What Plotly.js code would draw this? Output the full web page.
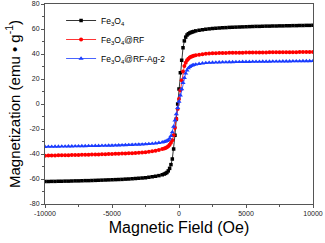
<!DOCTYPE html>
<html>
<head>
<meta charset="utf-8">
<script src="https://cdn.plot.ly/plotly-3.0.1.min.js"></script>
<style>html,body{margin:0;padding:0;background:#fff;}#chart{width:325px;height:243px;}</style>
</head>
<body>
<div id="chart"></div>
<script>
var field = [-10000,-9750,-9500,-9250,-9000,-8750,-8500,-8250,-8000,-7750,-7500,-7250,-7000,-6750,-6500,-6250,-6000,-5750,-5500,-5250,-5000,-4750,-4500,-4250,-4000,-3750,-3500,-3250,-3000,-2750,-2500,-2250,-2000,-1750,-1500,-1250,
-1100,-1000,-900,-800,-700,-600,-500,-400,-300,-200,-100,0,100,200,300,400,500,600,700,800,900,1000,1100,
1250,1500,1750,2000,2250,2500,2750,3000,3250,3500,3750,4000,4250,4500,4750,5000,5250,5500,5750,6000,6250,6500,6750,7000,7250,7500,7750,8000,8250,8500,8750,9000,9250,9500,9750,10000];

var fe3o4 = [-62.0,-62.0,-61.9,-61.9,-61.8,-61.8,-61.7,-61.7,-61.6,-61.5,-61.5,-61.4,-61.3,-61.3,-61.2,-61.1,-61.0,-60.9,-60.8,-60.7,-60.6,-60.5,-60.4,-60.3,-60.1,-60.0,-59.8,-59.6,-59.4,-59.2,-59.0,-58.6,-58.2,-57.8,-57.3,-56.6,
-56.0,-55.5,-54.8,-53.5,-51.5,-48.5,-44,-36,-25,-12,0,12,25,35,45,50.5,53.5,55.2,56.2,56.8,57.3,57.7,58.0,
58.5,59.0,59.4,59.8,60.1,60.4,60.6,60.8,61.0,61.1,61.3,61.4,61.5,61.6,61.7,61.8,61.9,62.0,62.1,62.1,62.2,62.3,62.3,62.4,62.4,62.5,62.5,62.6,62.6,62.7,62.7,62.8,62.8,62.9,62.9,63.0];

var fe3o4RF = [-41.3,-41.2,-41.1,-41.1,-41.0,-41.0,-40.9,-40.9,-40.8,-40.8,-40.7,-40.6,-40.6,-40.5,-40.4,-40.4,-40.3,-40.2,-40.1,-40.0,-39.9,-39.8,-39.7,-39.6,-39.5,-39.4,-39.3,-39.1,-38.9,-38.7,-38.5,-38.2,-37.8,-37.4,-36.8,-36.0,
-35.5,-35.1,-34.5,-33.7,-32.5,-31,-29,-25,-19,-12,-4,4,11,19,26,30.5,33,35,36.3,37.2,37.8,38.3,38.6,
39.0,39.5,39.9,40.2,40.4,40.6,40.7,40.8,40.9,40.9,41.0,41.0,41.1,41.1,41.1,41.2,41.2,41.2,41.3,41.3,41.3,41.3,41.4,41.4,41.4,41.4,41.5,41.5,41.5,41.5,41.5,41.6,41.6,41.6,41.6,41.7];

var fe3o4RFAg = [-34.2,-34.1,-34.1,-34.0,-34.0,-33.9,-33.9,-33.8,-33.8,-33.7,-33.7,-33.6,-33.6,-33.5,-33.5,-33.4,-33.4,-33.3,-33.3,-33.2,-33.2,-33.1,-33.0,-32.9,-32.8,-32.7,-32.6,-32.5,-32.4,-32.3,-32.1,-31.9,-31.7,-31.4,-31.0,-30.6,
-30.2,-29.9,-29.4,-28.7,-27.5,-25.5,-22.5,-18,-13,-8,-3,2,7,12,17,21,24.5,27,28.7,29.8,30.5,31,31.3,
31.7,32.2,32.6,32.9,33.1,33.2,33.3,33.4,33.5,33.5,33.6,33.6,33.7,33.7,33.8,33.8,33.8,33.9,33.9,33.9,34.0,34.0,34.0,34.1,34.1,34.1,34.2,34.2,34.2,34.3,34.3,34.3,34.4,34.4,34.4,34.5];

var seriesNames = ['Fe<sub>3</sub>O<sub>4</sub>', 'Fe<sub>3</sub>O<sub>4</sub>@RF', 'Fe<sub>3</sub>O<sub>4</sub>@RF-Ag-2'];
var xTicks = [-10000, -5000, 0, 5000, 10000];
var yTicks = [-80, -60, -40, -20, 0, 20, 40, 60, 80];

var traces = [
  {x: field, y: fe3o4, name: seriesNames[0], mode: 'lines+markers', line: {color: '#000000', width: 0.8}, marker: {symbol: 'square', size: 3.5, color: '#000000'}},
  {x: field, y: fe3o4RF, name: seriesNames[1], mode: 'lines+markers', line: {color: '#ff0000', width: 0.8}, marker: {symbol: 'circle', size: 4, color: '#ff0000'}},
  {x: field, y: fe3o4RFAg, name: seriesNames[2], mode: 'lines+markers', line: {color: '#1a3cff', width: 0.8}, marker: {symbol: 'triangle-up', size: 4.5, color: '#1a3cff'}}
];

var layout = {
  width: 325, height: 243,
  margin: {l: 45, r: 12, t: 4, b: 39},
  paper_bgcolor: '#ffffff', plot_bgcolor: '#ffffff',
  font: {family: 'Liberation Sans, Arial, sans-serif', color: '#000000'},
  showlegend: true,
  legend: {x: 0.06, y: 0.99, xanchor: 'left', yanchor: 'top', bgcolor: 'rgba(0,0,0,0)', font: {size: 8.5}, tracegroupgap: 0, itemwidth: 30},
  xaxis: {
    range: [-10000, 10000], tickvals: xTicks, ticktext: xTicks.map(String),
    ticks: 'outside', ticklen: 3, tickwidth: 1, tickcolor: '#555',
    minor: {dtick: 2500, ticks: 'outside', ticklen: 2, tickcolor: '#555'},
    showline: true, linecolor: '#555', linewidth: 1, mirror: true,
    showgrid: false, zeroline: false,
    tickfont: {size: 7, color: '#222'},
    title: {text: 'Magnetic Field (Oe)', font: {size: 16}, standoff: 5}
  },
  yaxis: {
    range: [-80, 80], tickvals: yTicks, ticktext: yTicks.map(String),
    ticks: 'outside', ticklen: 3, tickwidth: 1, tickcolor: '#555',
    minor: {dtick: 10, ticks: 'outside', ticklen: 2, tickcolor: '#555'},
    showline: true, linecolor: '#555', linewidth: 1, mirror: true,
    showgrid: false, zeroline: false,
    tickfont: {size: 7, color: '#222'},
    title: {text: 'Magnetization (emu \u2022 g<sup>-1</sup>)', font: {size: 15}, standoff: 5}
  }
};

Plotly.newPlot('chart', traces, layout, {displayModeBar: false, staticPlot: true});
</script>
</body>
</html>
